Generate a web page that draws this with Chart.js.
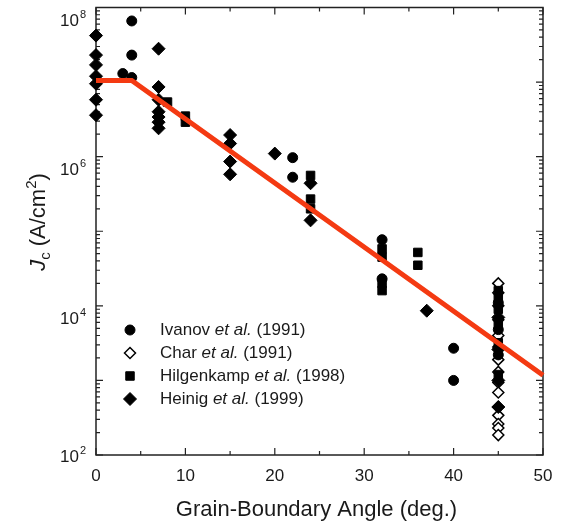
<!DOCTYPE html>
<html>
<head>
<meta charset="utf-8">
<script src="https://cdn.jsdelivr.net/npm/chart.js@4.4.1/dist/chart.umd.min.js"></script>
<style>
    html, body { margin: 0; padding: 0; background: #fff; }
    canvas { display: block; }
</style>
</head>
<body>
<canvas id="jcChart" width="561" height="528"></canvas>
<script>
// Data: grain-boundary angle (deg.) vs Jc (A/cm^2)
const ivanovAngle = [3, 4, 4, 4, 22, 22, 32, 32, 40, 40, 45, 45, 45];
const ivanovJc    = [1.3e7, 6.6e7, 2.3e7, 1.15e7, 9.7e5, 5.3e5, 7.7e4, 2.3e4, 2.7e3, 1.0e3, 1.1e4, 4.8e3, 2.2e3];

const charAngle = [45, 45, 45, 45, 45, 45, 45, 45, 45, 45, 45, 45, 45, 45, 45];
const charJc    = [2.0e4, 1.5e4, 1.0e4, 6.5e3, 4.0e3, 2.8e3, 1.9e3, 1.3e3, 940, 690, 440, 340, 260, 230, 185];

const hilgAngle = [8, 10, 10, 24, 24, 24, 32, 32, 32, 32, 36, 36, 45, 45, 45, 45, 45, 45];
const hilgJc    = [5.4e6, 3.5e6, 2.9e6, 5.6e5, 2.7e5, 2.0e5, 5.8e4, 4.5e4, 2.0e4, 1.6e4, 5.2e4, 3.5e4, 1.6e4, 1.25e4, 9e3, 5.6e3, 3.2e3, 1.2e3];

const heinigAngle = [0, 0, 0, 0, 0, 0, 0, 7, 7, 7, 7, 7, 7, 7, 15, 15, 15, 15, 20, 24, 24, 37, 45, 45, 45, 45];
const heinigJc    = [4.2e7, 2.3e7, 1.7e7, 1.2e7, 9.5e6, 5.8e6, 3.6e6, 2.8e7, 8.6e6, 5.8e6, 4.0e6, 3.4e6, 2.9e6, 2.4e6, 1.95e6, 1.5e6, 8.6e5, 5.8e5, 1.1e6, 4.4e5, 1.4e5, 8.6e3, 7e3, 2.6e3, 1.0e3, 440];

// Fit line (red): plateau then exponential decay
const fitAngle = [0, 4, 50];
const fitJc    = [1.05e7, 1.05e7, 1.17e3];

const xTicks = [0, 10, 20, 30, 40, 50];
const yTickExps = [2, 4, 6, 8];

const legendItems = [
    { name: 'Ivanov', year: '(1991)' },
    { name: 'Char', year: '(1991)' },
    { name: 'Hilgenkamp', year: '(1998)' },
    { name: 'Heinig', year: '(1999)' }
];

const FONT = '"Liberation Sans", Arial, Helvetica, sans-serif';
const INK = '#1a1a1a';

const toPoints = (xs, ys) => xs.map((x, i) => ({ x, y: ys[i] }));

// Frame and inward ticks on all four sides
const frameTicks = {
    id: 'frameTicks',
    beforeDatasetsDraw(chart) {
        const { ctx, chartArea: a, scales: { x, y } } = chart;
        ctx.save();
        ctx.strokeStyle = '#222';
        ctx.lineWidth = 1.5;
        ctx.strokeRect(a.left, a.top, a.right - a.left, a.bottom - a.top);

        ctx.lineWidth = 1.2;
        ctx.beginPath();
        for (let v = 0; v <= 50; v += 5) {
            const px = x.getPixelForValue(v);
            const len = v % 10 === 0 ? 7 : 4;
            ctx.moveTo(px, a.bottom); ctx.lineTo(px, a.bottom - len);
            ctx.moveTo(px, a.top); ctx.lineTo(px, a.top + len);
        }
        for (let e = 2; e <= 8; e++) {
            for (let m = 1; m <= 9; m++) {
                if (e === 8 && m > 1) break;
                const py = y.getPixelForValue(m * Math.pow(10, e));
                const len = m === 1 ? 7 : 4;
                ctx.moveTo(a.left, py); ctx.lineTo(a.left + len, py);
                ctx.moveTo(a.right, py); ctx.lineTo(a.right - len, py);
            }
        }
        ctx.stroke();
        ctx.restore();
    }
};

// Tick labels, axis titles and the legend (mixed italic / sub / superscript text)
const labels = {
    id: 'labels',
    afterDraw(chart) {
        const { ctx, chartArea: a, scales: { x, y } } = chart;
        ctx.save();
        ctx.fillStyle = INK;

        // x tick labels
        ctx.font = `17px ${FONT}`;
        ctx.textAlign = 'center';
        ctx.textBaseline = 'alphabetic';
        xTicks.forEach(v => ctx.fillText(String(v), x.getPixelForValue(v), a.bottom + 26));

        // y tick labels 10^n
        yTickExps.forEach(e => {
            const py = y.getPixelForValue(Math.pow(10, e));
            const base = py + (e === 2 ? 7 : 18);
            ctx.font = `17px ${FONT}`;
            ctx.textAlign = 'right';
            ctx.fillText('10', a.left - 17, base);
            ctx.font = `11px ${FONT}`;
            ctx.textAlign = 'left';
            ctx.fillText(String(e), a.left - 16, base - 8);
        });

        // x title
        ctx.font = `22px ${FONT}`;
        ctx.textAlign = 'center';
        ctx.fillText('Grain-Boundary Angle (deg.)', (a.left + a.right) / 2 - 3, a.bottom + 61);

        // y title: J_c (A/cm^2)
        const parts = [
            { t: 'J', f: `italic 22px ${FONT}`, dy: 0 },
            { t: 'c', f: `15px ${FONT}`, dy: 5 },
            { t: ' (A/cm', f: `22px ${FONT}`, dy: 0 },
            { t: '2', f: `15px ${FONT}`, dy: -9 },
            { t: ')', f: `22px ${FONT}`, dy: 0 }
        ];
        let total = 0;
        parts.forEach(p => { ctx.font = p.f; p.w = ctx.measureText(p.t).width; total += p.w; });
        ctx.translate(45, 222);
        ctx.rotate(-Math.PI / 2);
        ctx.textAlign = 'left';
        let cx = -total / 2;
        parts.forEach(p => { ctx.font = p.f; ctx.fillText(p.t, cx, p.dy); cx += p.w; });
        ctx.setTransform(1, 0, 0, 1, 0, 0);

        // legend
        const metas = [1, 2, 3, 4].map(i => chart.data.datasets[i]);
        const order = [0, 3, 1, 2]; // Ivanov, Char, Hilgenkamp, Heinig -> dataset slots
        const rowY = [330, 353, 376, 399];
        legendItems.forEach((item, i) => {
            const ds = metas[order[i]];
            const yy = rowY[i];
            ctx.fillStyle = ds.backgroundColor;
            ctx.strokeStyle = ds.borderColor;
            ctx.lineWidth = ds.borderWidth;
            Chart.helpers.drawPoint(ctx, {
                pointStyle: ds.pointStyle, radius: ds.pointRadius, rotation: 0, borderWidth: ds.borderWidth
            }, 130, yy);
            ctx.fillStyle = INK;
            ctx.textBaseline = 'middle';
            let tx = 160;
            const segs = [
                { t: item.name + ' ', f: `17px ${FONT}` },
                { t: 'et al.', f: `italic 17px ${FONT}` },
                { t: ' ' + item.year, f: `17px ${FONT}` }
            ];
            segs.forEach(s => { ctx.font = s.f; ctx.fillText(s.t, tx, yy); tx += ctx.measureText(s.t).width; });
        });
        ctx.restore();
    }
};

new Chart(document.getElementById('jcChart'), {
    type: 'scatter',
    data: {
        datasets: [
            {
                label: 'fit',
                type: 'line',
                data: toPoints(fitAngle, fitJc),
                borderColor: '#f43a12',
                borderWidth: 5,
                pointRadius: 0,
                showLine: true,
                fill: false,
                clip: false
            },
            {
                label: 'Ivanov et al. (1991)',
                data: toPoints(ivanovAngle, ivanovJc),
                pointStyle: 'circle',
                pointRadius: 5,
                backgroundColor: '#000',
                borderColor: '#000',
                borderWidth: 1,
                clip: false
            },
            {
                label: 'Hilgenkamp et al. (1998)',
                data: toPoints(hilgAngle, hilgJc),
                pointStyle: 'rect',
                pointRadius: 6,
                backgroundColor: '#000',
                borderColor: '#000',
                borderWidth: 1,
                clip: false
            },
            {
                label: 'Heinig et al. (1999)',
                data: toPoints(heinigAngle, heinigJc),
                pointStyle: 'rectRot',
                pointRadius: 6.5,
                backgroundColor: '#000',
                borderColor: '#000',
                borderWidth: 1,
                clip: false
            },
            {
                label: 'Char et al. (1991)',
                data: toPoints(charAngle, charJc),
                pointStyle: 'rectRot',
                pointRadius: 5.5,
                backgroundColor: '#fff',
                borderColor: '#000',
                borderWidth: 1.5,
                clip: false
            }
        ]
    },
    options: {
        responsive: false,
        animation: false,
        devicePixelRatio: 1,
        layout: { padding: { left: 96, right: 18, top: 5, bottom: 73 } },
        scales: {
            x: { type: 'linear', min: 0, max: 50, display: false },
            y: { type: 'logarithmic', min: 100, max: 1e8, display: false }
        },
        plugins: {
            legend: { display: false },
            tooltip: { enabled: false }
        }
    },
    plugins: [frameTicks, labels]
});
</script>
</body>
</html>
